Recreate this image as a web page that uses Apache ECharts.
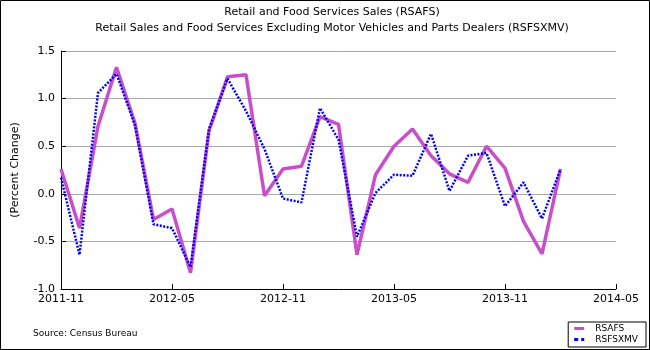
<!DOCTYPE html>
<html>
<head>
<meta charset="utf-8">
<script src="https://cdn.jsdelivr.net/npm/echarts@6/dist/echarts.min.js"></script>
<style>
  html, body { margin: 0; padding: 0; background: #fff; }
  #chart { width: 650px; height: 350px; }
</style>
</head>
<body>
<div id="chart"></div>
<script>
// months on the axis, 2011-11 .. 2014-05
const months = [
  '2011-11', '2011-12', '2012-01', '2012-02', '2012-03', '2012-04', '2012-05', '2012-06',
  '2012-07', '2012-08', '2012-09', '2012-10', '2012-11', '2012-12', '2013-01', '2013-02',
  '2013-03', '2013-04', '2013-05', '2013-06', '2013-07', '2013-08', '2013-09', '2013-10',
  '2013-11', '2013-12', '2014-01', '2014-02', '2014-03', '2014-04', '2014-05'
];

// percent change, 2011-11 .. 2014-02
const rsafs = [
  0.26, -0.36, 0.71, 1.33, 0.74, -0.27, -0.16, -0.83, 0.66, 1.23, 1.25, -0.02, 0.26, 0.29,
  0.81, 0.73, -0.64, 0.20, 0.50, 0.68, 0.40, 0.21, 0.12, 0.50, 0.27, -0.29, -0.63, 0.26
];
const rsfsxmv = [
  0.17, -0.64, 1.06, 1.26, 0.72, -0.32, -0.36, -0.77, 0.68, 1.21, 0.87, 0.47, -0.05, -0.09,
  0.90, 0.57, -0.45, 0.01, 0.20, 0.19, 0.63, 0.03, 0.40, 0.43, -0.13, 0.12, -0.26, 0.26
];

const font = 'DejaVu Sans';
const chart = echarts.init(document.getElementById('chart'));

chart.setOption({
  animation: false,
  textStyle: { fontFamily: font },
  title: {
    text: 'Retail and Food Services Sales (RSAFS)\nRetail Sales and Food Services Excluding Motor Vehicles and Parts Dealers (RSFSXMV)',
    left: 327,
    textAlign: 'center',
    top: -1,
    textStyle: { fontSize: 11, fontWeight: 'normal', color: '#000', lineHeight: 16, fontFamily: font }
  },
  grid: { left: 61, right: 34, top: 51, bottom: 61 },
  legend: {
    orient: 'vertical',
    right: 4,
    bottom: 3,
    padding: [2, 8, 3, 6],
    itemGap: 2,
    itemWidth: 10,
    itemHeight: 3,
    borderColor: '#000',
    borderWidth: 1,
    textStyle: { fontSize: 9, color: '#000', fontFamily: font, padding: [0, 0, 0, 6] },
    data: [
      { name: 'RSAFS', icon: 'rect' },
      { name: 'RSFSXMV', icon: 'path://M0,0h4v3h-4zM7,0h3v3h-3z' }
    ]
  },
  xAxis: {
    type: 'category',
    data: months,
    boundaryGap: false,
    axisLine: { onZero: false, lineStyle: { color: '#000', width: 1 } },
    axisTick: { inside: true, length: 5, interval: 5, lineStyle: { color: '#000' } },
    axisLabel: { interval: 5, margin: 5, fontSize: 11, color: '#000' },
    splitLine: { show: false }
  },
  yAxis: {
    type: 'value',
    min: -1,
    max: 1.5,
    interval: 0.5,
    name: '(Percent Change)',
    nameLocation: 'middle',
    nameGap: 40,
    nameTextStyle: { fontSize: 11, color: '#000' },
    axisLine: { show: true, lineStyle: { color: '#000', width: 1 } },
    axisTick: { show: true, inside: true, length: 5, lineStyle: { color: '#000' } },
    axisLabel: { margin: 6, fontSize: 11, color: '#000', formatter: v => v.toFixed(1) },
    splitLine: { lineStyle: { color: '#aaa', width: 1 } }
  },
  series: [
    {
      name: 'RSAFS',
      type: 'line',
      data: rsafs,
      symbol: 'none',
      color: '#c84fc8',
      lineStyle: { color: '#c84fc8', width: 3.5 },
      z: 2
    },
    {
      name: 'RSFSXMV',
      type: 'line',
      data: rsfsxmv,
      symbol: 'none',
      color: '#0000ff',
      lineStyle: { color: '#0000ff', width: 2.5, type: [2, 1.5] },
      z: 3
    }
  ],
  graphic: [
    {
      type: 'text',
      left: 33,
      top: 329,
      style: { text: 'Source: Census Bureau', fontSize: 9, fill: '#000', fontFamily: font }
    },
    {
      type: 'rect',
      shape: { x: 0.5, y: 0.5, width: 649, height: 349 },
      style: { fill: 'none', stroke: '#000', lineWidth: 1 },
      silent: true
    }
  ]
});
</script>
</body>
</html>
